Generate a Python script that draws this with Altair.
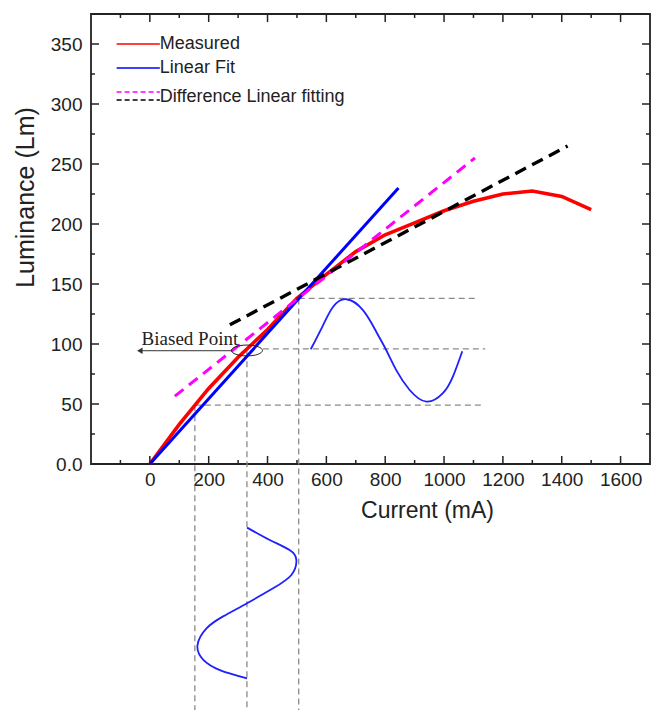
import altair as alt
import pandas as pd

# ---------------- data ----------------
current = [0, 100, 200, 300, 400, 500, 600, 700, 800, 900, 1000, 1100, 1200, 1300, 1400, 1500]
measured = [0, 33, 63, 89, 112, 138, 158, 177, 191, 201, 211, 219, 225, 227.5, 223, 212]

fit_x = [0, 845]
fit_y = [0, 230]
diff_a_x = [85, 1105]          # magenta dashed
diff_a_y = [56.5, 255]
diff_b_x = [272, 1420]         # black dashed
diff_b_y = [116, 265]

# output (luminance) sine, read point by point
out_sine_x = [547, 589, 623, 668, 725, 770, 802, 838, 883, 940, 996, 1030, 1062]
out_sine_y = [95.6, 115.8, 131, 137.3, 128, 110, 95.6, 78, 61.7, 52, 59, 72.8, 94]

# input (current) sine below the axis, read point by point (drawn in order)
in_sine_x = [330.5, 407.6, 475, 498, 481, 419, 330.5, 249, 192.6, 162, 181, 238, 330.5]
in_sine_y = [-53, -63.3, -71.7, -80, -92.5, -103.6, -116, -127, -137, -151, -163, -171.7, -178.6]

# grey dashed guide lines
guide_x1 = [153, 384, 506, 153, 330, 506]
guide_x2 = [1125, 1140, 1110, 153, 330, 506]
guide_y1 = [49, 96, 138, 49, 94, 138]
guide_y2 = [49, 96, 138, -205, -205, -205]

# legend
leg_labels = ["Measured", "Linear Fit", "Difference Linear fitting"]
leg_x1 = -113
leg_x2 = 34
leg_line_y = [350, 330, 310, 303.3]
leg_text_y = [350, 330, 306]

# annotation
bias_text_x = -28
bias_text_y = 99
arrow_x1 = -34
arrow_x2 = 280
arrow_y = 94.4
ellipse_x = 330
ellipse_y = 94.6

# axes
x_labels = [0, 200, 400, 600, 800, 1000, 1200, 1400, 1600]
x_minor = [-100, 100, 300, 500, 700, 900, 1100, 1300, 1500]
y_labels = [0, 50, 100, 150, 200, 250, 300, 350]
y_minor = [25, 75, 125, 175, 225, 275, 325]

W, H = 559, 450
FONT = "Liberation Sans"
TXT = "#222222"

xs = alt.Scale(domain=[-200, 1700], nice=False, zero=False)
ys = alt.Scale(domain=[0, 375], nice=False, zero=False)

xaxis = alt.Axis(values=x_labels, format="d", title="Current (mA)", grid=False, ticks=False, domain=False,
                 labelFont=FONT, labelFontSize=19, labelColor=TXT, labelPadding=6,
                 titleFont=FONT, titleFontSize=23, titleFontWeight="normal", titleColor=TXT,
                 titleX=336, titleY=53, titleAlign="center", titleBaseline="alphabetic")
yaxis = alt.Axis(values=y_labels, title="Luminance (Lm)", grid=False, ticks=False, domain=False,
                 labelExpr="datum.value == 0 ? '0.0' : datum.label",
                 labelFont=FONT, labelFontSize=19, labelColor=TXT, labelPadding=9,
                 titleFont=FONT, titleFontSize=25, titleFontWeight="normal", titleColor=TXT,
                 titleX=-58, titleY=183, titleAngle=270, titleAlign="center",
                 titleBaseline="alphabetic")


def X(f="x"):
    return alt.X(f"{f}:Q", scale=xs, axis=xaxis)


def Y(f="y"):
    return alt.Y(f"{f}:Q", scale=ys, axis=yaxis)


def X2(f="x2"):
    return alt.X2(f"{f}:Q")


def Y2(f="y2"):
    return alt.Y2(f"{f}:Q")


layers = []

# grey dashed guides
guides = pd.DataFrame({"x": guide_x1, "x2": guide_x2, "y": guide_y1, "y2": guide_y2})
layers.append(alt.Chart(guides).mark_rule(color="#8a8a8a", strokeWidth=1.3, strokeDash=[6, 4], clip=False)
              .encode(x=X(), x2=X2(), y=Y(), y2=Y2()))

# measured
meas = pd.DataFrame({"x": current, "y": measured})
layers.append(alt.Chart(meas).mark_line(color="#ff0000", strokeWidth=3.6)
              .encode(x=X(), y=Y()))

# linear fit
fit = pd.DataFrame({"x": fit_x, "y": fit_y})
layers.append(alt.Chart(fit).mark_line(color="#0000ff", strokeWidth=3)
              .encode(x=X(), y=Y()))

# difference linear fittings
da = pd.DataFrame({"x": diff_a_x, "y": diff_a_y})
layers.append(alt.Chart(da).mark_line(color="#ff00ff", strokeWidth=3, strokeDash=[11, 7])
              .encode(x=X(), y=Y()))
db = pd.DataFrame({"x": diff_b_x, "y": diff_b_y})
layers.append(alt.Chart(db).mark_line(color="#000000", strokeWidth=3.4, strokeDash=[12, 7])
              .encode(x=X(), y=Y()))

# sines
osine = pd.DataFrame({"x": out_sine_x, "y": out_sine_y, "i": list(range(len(out_sine_x)))})
layers.append(alt.Chart(osine).mark_line(color="#1f1fff", strokeWidth=1.8, interpolate="natural", clip=False)
              .encode(x=X(), y=Y(), order="i:Q"))
isine = pd.DataFrame({"x": in_sine_x, "y": in_sine_y, "i": list(range(len(in_sine_x)))})
layers.append(alt.Chart(isine).mark_line(color="#1f1fff", strokeWidth=1.8, interpolate="natural", clip=False)
              .encode(x=X(), y=Y(), order="i:Q"))

# biased point annotation
arrow = pd.DataFrame({"x": [arrow_x1], "x2": [arrow_x2], "y": [arrow_y]})
layers.append(alt.Chart(arrow).mark_rule(color="#333333", strokeWidth=1)
              .encode(x=X(), x2=X2(), y=Y()))
head = pd.DataFrame({"x": [arrow_x1], "y": [arrow_y]})
layers.append(alt.Chart(head).mark_point(shape="triangle-left", filled=True, size=40, color="#333333", opacity=1)
              .encode(x=X(), y=Y()))
ell_path = ("M -1 0 C -1 -0.193 -0.552 -0.35 0 -0.35 C 0.552 -0.35 1 -0.193 1 0 "
            "C 1 0.193 0.552 0.35 0 0.35 C -0.552 0.35 -1 0.193 -1 0 Z")
ell = pd.DataFrame({"x": [ellipse_x], "y": [ellipse_y]})
layers.append(alt.Chart(ell).mark_point(shape=ell_path, filled=False, size=961, color="#222222",
                                         strokeWidth=1, opacity=1)
              .encode(x=X(), y=Y()))
btxt = pd.DataFrame({"x": [bias_text_x], "y": [bias_text_y], "t": ["Biased Point"]})
layers.append(alt.Chart(btxt).mark_text(font="Liberation Serif", fontSize=19, align="left",
                                         baseline="alphabetic", color=TXT)
              .encode(x=X(), y=Y(), text="t:N"))

# legend
leg_lines = [
    ("#ff0000", leg_line_y[0], None),
    ("#0000ff", leg_line_y[1], None),
    ("#ff00ff", leg_line_y[2], [5, 3]),
    ("#000000", leg_line_y[3], [5, 3]),
]
for col, yy, dash in leg_lines:
    d = pd.DataFrame({"x": [leg_x1], "x2": [leg_x2], "y": [yy]})
    kw = dict(color=col, strokeWidth=1.6)
    if dash:
        kw["strokeDash"] = dash
    layers.append(alt.Chart(d).mark_rule(**kw).encode(x=X(), x2=X2(), y=Y()))
ltxt = pd.DataFrame({"x": [leg_x2] * 3, "y": leg_text_y, "t": leg_labels})
layers.append(alt.Chart(ltxt).mark_text(font=FONT, fontSize=18, align="left", baseline="middle", color=TXT)
              .encode(x=X(), y=Y(), text="t:N"))

# inward ticks on all four sides
TK = "#222222"
xmaj = pd.DataFrame({"x": x_labels})
xmin = pd.DataFrame({"x": x_minor})
ymaj = pd.DataFrame({"y": y_labels[1:]})
ymin = pd.DataFrame({"y": y_minor})
for df, ln in ((xmaj, 8), (xmin, 4)):
    layers.append(alt.Chart(df).mark_rule(color=TK, strokeWidth=1.5)
                  .encode(x=X(), y=alt.value(H), y2=alt.value(H - ln)))
    layers.append(alt.Chart(df).mark_rule(color=TK, strokeWidth=1.5)
                  .encode(x=X(), y=alt.value(0), y2=alt.value(ln)))
for df, ln in ((ymaj, 8), (ymin, 4)):
    layers.append(alt.Chart(df).mark_rule(color=TK, strokeWidth=1.5)
                  .encode(y=Y(), x=alt.value(0), x2=alt.value(ln)))
    layers.append(alt.Chart(df).mark_rule(color=TK, strokeWidth=1.5)
                  .encode(y=Y(), x=alt.value(W), x2=alt.value(W - ln)))

chart = (alt.layer(*layers)
         .properties(width=W, height=H,
                     autosize=alt.AutoSizeParams(type="none"),
                     padding={"left": 91, "top": 14, "right": 1, "bottom": 247},
                     background="white")
         .configure_view(stroke="#222222", strokeWidth=1.8))

chart.save("out.html", embed_options={"renderer": "svg", "actions": False})
